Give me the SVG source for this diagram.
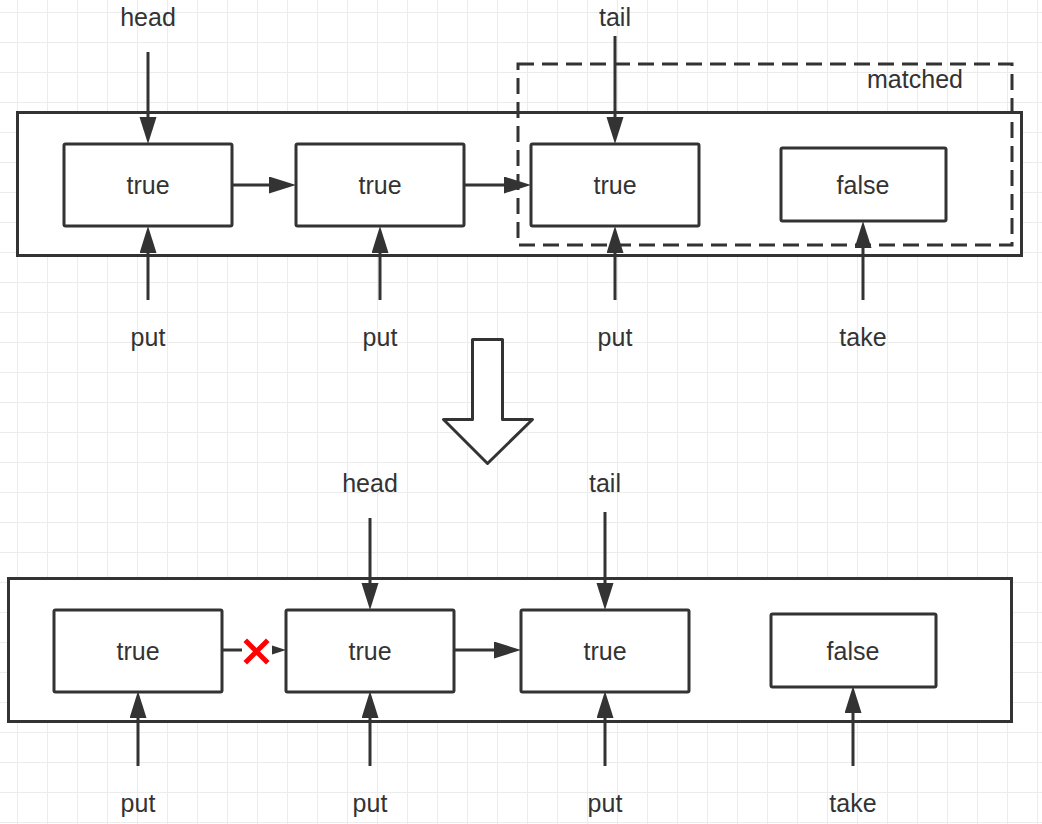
<svg xmlns="http://www.w3.org/2000/svg" width="1042" height="824" viewBox="0 0 1042 824">
<defs>
<pattern id="grid" x="17" y="12" width="30" height="30" patternUnits="userSpaceOnUse">
<path d="M0.5,0 V30 M0,0.5 H30" fill="none" stroke="#ececec" stroke-width="1"/>
</pattern>
<marker id="ah" markerUnits="userSpaceOnUse" markerWidth="30" markerHeight="20" refX="2" refY="8.5" orient="auto">
<path d="M0,0 L27,8.5 L0,17 Z" fill="#333"/>
</marker>
</defs>
<style>
.box{fill:#fff;stroke:#333;stroke-width:3}
.cont{fill:none;stroke:#333;stroke-width:3}
.dash{fill:none;stroke:#333;stroke-width:3;stroke-dasharray:16 8}
.edge{fill:none;stroke:#333;stroke-width:3;marker-end:url(#ah)}
.t{font-family:"Liberation Sans",Arial,sans-serif;font-size:25px;fill:#333;text-anchor:middle}
</style>
<rect width="1042" height="824" fill="#fff"/>
<rect width="1042" height="824" fill="url(#grid)"/>

<g id="top-container"><rect class="box" x="17.5" y="112.5" width="1004" height="143"/></g>
<g id="top-n1"><rect class="box" x="64" y="144" width="168" height="82" rx="1.5"/><text class="t" x="148" y="194">true</text></g>
<g id="top-n2"><rect class="box" x="296" y="144" width="168" height="82" rx="1.5"/><text class="t" x="380" y="194">true</text></g>
<g id="top-n3"><rect class="box" x="531" y="144" width="168" height="82" rx="1.5"/><text class="t" x="615" y="194">true</text></g>
<g id="top-n4"><rect class="box" x="781" y="148" width="165" height="73" rx="1.5"/><text class="t" x="863" y="194">false</text></g>
<g id="matched"><rect class="dash" x="518" y="64" width="494" height="181"/><text class="t" x="915" y="88">matched</text></g>

<g id="top-labels">
<text class="t" x="148" y="26">head</text>
<text class="t" x="615" y="26">tail</text>
<text class="t" x="148" y="346">put</text>
<text class="t" x="380" y="346">put</text>
<text class="t" x="615" y="346">put</text>
<text class="t" x="863" y="346">take</text>
</g>

<g id="big-arrow"><polygon points="472.5,339.5 502.5,339.5 502.5,419.5 532.5,419.5 487.5,463.5 443.5,419.5 472.5,419.5" fill="#fff" stroke="#333" stroke-width="3" stroke-linejoin="round"/></g>

<g id="bottom-container"><rect class="box" x="8.5" y="578.5" width="1003" height="143"/></g>
<g id="bot-n1"><rect class="box" x="54" y="610" width="168" height="82" rx="1.5"/><text class="t" x="138" y="660">true</text></g>
<g id="bot-n2"><rect class="box" x="286" y="610" width="168" height="82" rx="1.5"/><text class="t" x="370" y="660">true</text></g>
<g id="bot-n3"><rect class="box" x="521" y="610" width="168" height="82" rx="1.5"/><text class="t" x="605" y="660">true</text></g>
<g id="bot-n4"><rect class="box" x="771" y="614" width="165" height="73" rx="1.5"/><text class="t" x="853" y="660">false</text></g>

<g id="bottom-labels">
<text class="t" x="370" y="492">head</text>
<text class="t" x="605" y="492">tail</text>
<text class="t" x="138" y="812">put</text>
<text class="t" x="370" y="812">put</text>
<text class="t" x="605" y="812">put</text>
<text class="t" x="853" y="812">take</text>
</g>

<g id="connectors">
<line class="edge" x1="148" y1="52" x2="148" y2="119"/>
<line class="edge" x1="615" y1="36" x2="615" y2="119"/>
<line class="edge" x1="232" y1="185" x2="271" y2="185"/>
<line class="edge" x1="464" y1="185" x2="506" y2="185"/>
<line class="edge" x1="148" y1="300" x2="148" y2="251"/>
<line class="edge" x1="380" y1="300" x2="380" y2="251"/>
<line class="edge" x1="615" y1="300" x2="615" y2="251"/>
<line class="edge" x1="863" y1="300" x2="863" y2="246"/>

<line class="edge" x1="370" y1="518" x2="370" y2="585"/>
<line class="edge" x1="605" y1="512" x2="605" y2="585"/>
<line class="edge" x1="454" y1="650" x2="496" y2="650"/>
<line class="edge" x1="138" y1="766" x2="138" y2="716"/>
<line class="edge" x1="370" y1="766" x2="370" y2="716"/>
<line class="edge" x1="605" y1="766" x2="605" y2="716"/>
<line class="edge" x1="853" y1="766" x2="853" y2="711"/>

<line x1="222" y1="650" x2="242" y2="650" stroke="#333" stroke-width="3"/>
<polygon points="272,645.5 286,650 272,654.5" fill="#333"/>
<path d="M247,642 L266,661 M266,642 L247,661" stroke="#f00" stroke-width="5" stroke-linecap="square" fill="none"/>
</g>
</svg>
